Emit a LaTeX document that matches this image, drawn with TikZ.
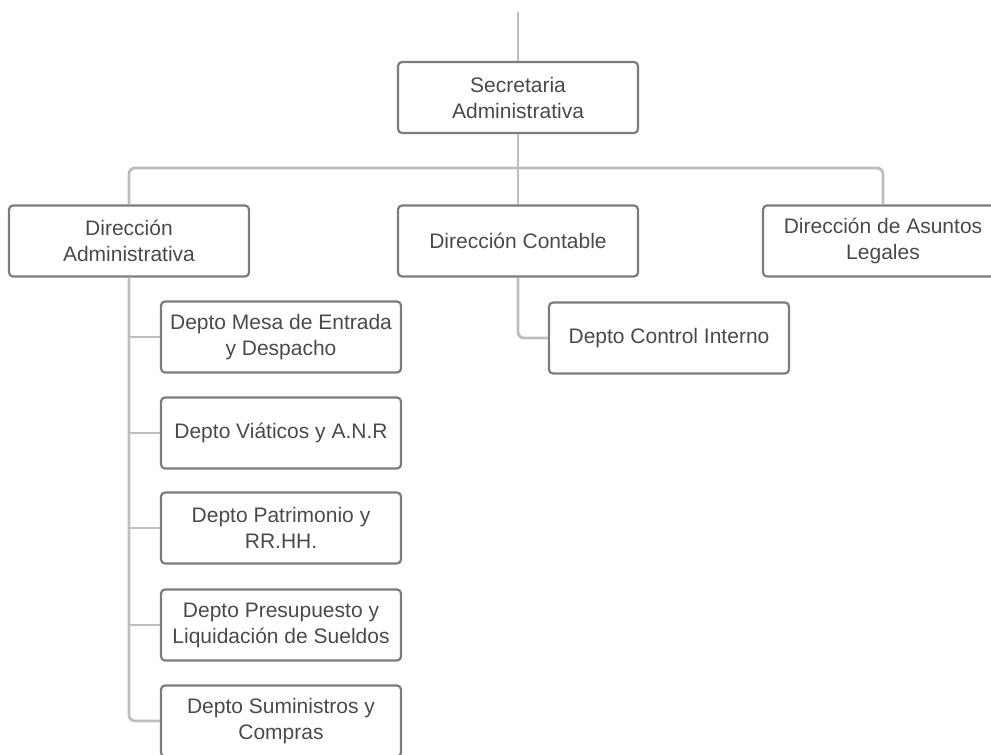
\documentclass[tikz,border=0pt]{standalone}
\usepackage{fontspec}
\setmainfont{Liberation Sans}
\usetikzlibrary{positioning,calc}
\definecolor{boxline}{HTML}{7C7C7C}
\definecolor{linkline}{HTML}{BDBDBD}
\definecolor{textgray}{HTML}{4A4A4A}

\begin{document}
\begin{tikzpicture}[
  x=0.5pt, y=-0.5pt,
  unit/.style={
    draw=boxline,
    line width=1.1pt,
    rounded corners=2pt,
    minimum width=120pt,
    minimum height=35.5pt,
    align=center,
    text=textgray,
    font=\fontsize{10.5}{13}\selectfont,
  },
  link/.style={
    draw=linkline,
    line width=1.4pt,
    rounded corners=3pt,
  }]
  \useasboundingbox (0,0) rectangle (991,755);
  % top level
  \node[unit] (sec) at (518,97.5) {Secretaria\\Administrativa};
  \coordinate (top) at (518,12);
  \coordinate (bus) at (518,168);
  % direcciones
  \node[unit] (dadm) at (129,241) {Dirección\\Administrativa};
  \node[unit] (dcont) at (518,241) {Dirección Contable};
  \node[unit] (dleg) at (883,241) {Dirección de Asuntos\\Legales};
  \node[unit] (ctrl) at (669,338) {Depto Control Interno};
  % departamentos
  \foreach \name/\y/\A in
  {d1/337/{Depto Mesa de Entrada\\y Despacho},
   d2/433/{Depto Viáticos y A.N.R},
   d3/528/{Depto Patrimonio y\\RR.HH.},
   d4/625/{Depto Presupuesto y\\Liquidación de Sueldos},
   d5/721/{Depto Suministros y\\Compras}}
  {
    \node[unit] (\name) at (281,\y) {\A};
  }
  % connectors
  \draw[link] (top) -- (sec.north);
  \draw[link] (sec.south) -- (dcont.north);
  \draw[link] (dadm.north) |- (bus) -| (dleg.north);
  \draw[link] (dcont.south) |- (ctrl.west);
  \draw[link] (dadm.south) |- (d5.west);
  \foreach \name in {d1,d2,d3,d4}
  {
    \draw[link] (dadm.south |- \name.west) -- (\name.west);
  }
\end{tikzpicture}
\end{document}
